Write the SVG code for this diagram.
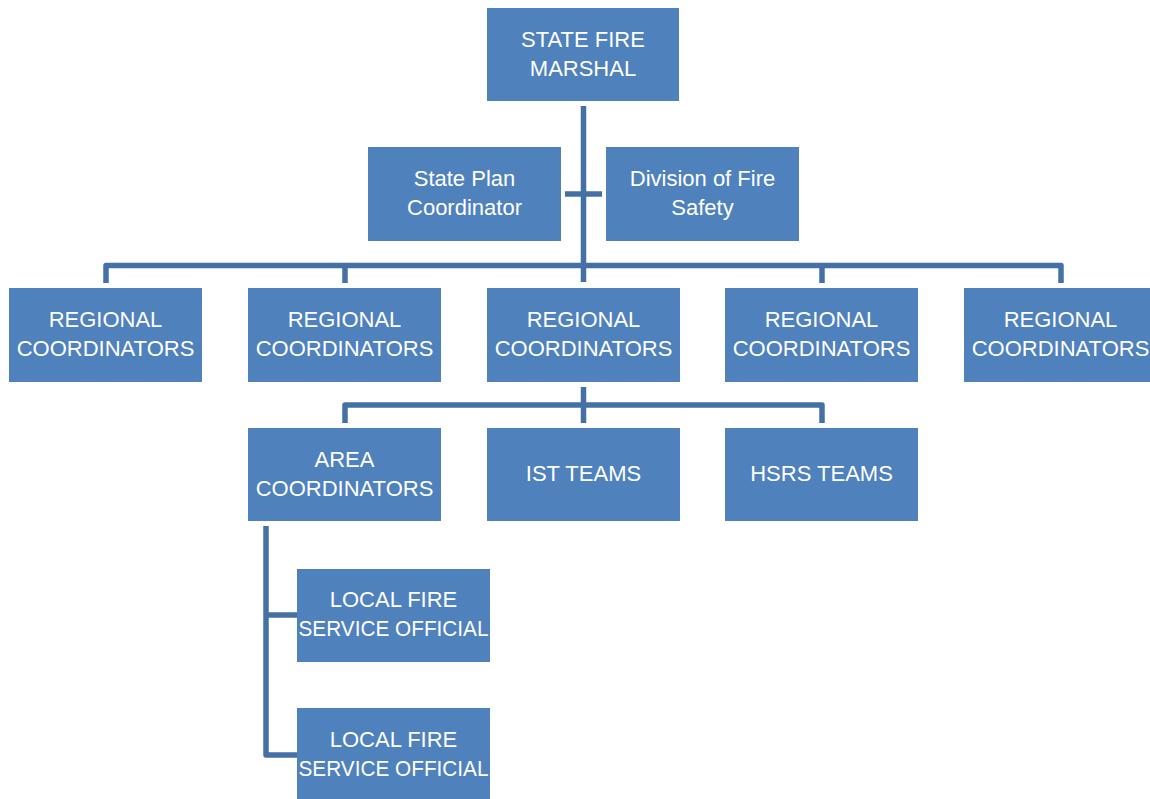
<svg xmlns="http://www.w3.org/2000/svg" width="1150" height="799" viewBox="0 0 1150 799">
<style>
.box{fill:#4F81BD;}
.t{font-family:"Liberation Sans",Arial,sans-serif;font-size:22px;fill:#FFFFFF;text-anchor:middle;}
.c{fill:none;stroke:#4470A5;stroke-width:5.5;stroke-linejoin:round;}
</style>
<rect width="1150" height="799" fill="#FFFFFF"/>
<g id="connectors">
<path class="c" d="M583.5,106 V282"/>
<path class="c" d="M565,194 H602"/>
<path class="c" d="M106,283 V265.5 H1061 V283"/>
<path class="c" d="M345,265.5 V283"/>
<path class="c" d="M822,265.5 V283"/>
<path class="c" d="M583.5,387 V423"/>
<path class="c" d="M345,423 V405 H822 V423"/>
<path class="c" d="M266,526 V755 H297"/>
<path class="c" d="M266,615 H297"/>
</g>
<g id="state-fire-marshal">
<rect class="box" x="487" y="8" width="192" height="93"/>
<text class="t" x="583" y="47">STATE FIRE</text>
<text class="t" x="583" y="76">MARSHAL</text>
</g>
<g id="state-plan-coordinator">
<rect class="box" x="368" y="147" width="193" height="94"/>
<text class="t" x="464.5" y="186">State Plan</text>
<text class="t" x="464.5" y="215">Coordinator</text>
</g>
<g id="division-fire-safety">
<rect class="box" x="606" y="147" width="193" height="94"/>
<text class="t" x="702.5" y="186">Division of Fire</text>
<text class="t" x="702.5" y="215">Safety</text>
</g>
<g id="regional-1">
<rect class="box" x="9" y="288" width="193" height="94"/>
<text class="t" x="105.5" y="327">REGIONAL</text>
<text class="t" x="105.5" y="356">COORDINATORS</text>
</g>
<g id="regional-2">
<rect class="box" x="248" y="288" width="193" height="94"/>
<text class="t" x="344.5" y="327">REGIONAL</text>
<text class="t" x="344.5" y="356">COORDINATORS</text>
</g>
<g id="regional-3">
<rect class="box" x="487" y="288" width="193" height="94"/>
<text class="t" x="583.5" y="327">REGIONAL</text>
<text class="t" x="583.5" y="356">COORDINATORS</text>
</g>
<g id="regional-4">
<rect class="box" x="725" y="288" width="193" height="94"/>
<text class="t" x="821.5" y="327">REGIONAL</text>
<text class="t" x="821.5" y="356">COORDINATORS</text>
</g>
<g id="regional-5">
<rect class="box" x="964" y="288" width="193" height="94"/>
<text class="t" x="1060.5" y="327">REGIONAL</text>
<text class="t" x="1060.5" y="356">COORDINATORS</text>
</g>
<g id="area-coordinators">
<rect class="box" x="248" y="428" width="193" height="93"/>
<text class="t" x="344.5" y="467">AREA</text>
<text class="t" x="344.5" y="496">COORDINATORS</text>
</g>
<g id="ist-teams">
<rect class="box" x="487" y="428" width="193" height="93"/>
<text class="t" x="583.5" y="481">IST TEAMS</text>
</g>
<g id="hsrs-teams">
<rect class="box" x="725" y="428" width="193" height="93"/>
<text class="t" x="821.5" y="481">HSRS TEAMS</text>
</g>
<g id="local-fire-1">
<rect class="box" x="297" y="569" width="193" height="93"/>
<text class="t" x="393.5" y="607">LOCAL FIRE</text>
<text class="t" x="393.5" y="636" textLength="190" lengthAdjust="spacingAndGlyphs">SERVICE OFFICIAL</text>
</g>
<g id="local-fire-2">
<rect class="box" x="297" y="708" width="193" height="93"/>
<text class="t" x="393.5" y="747">LOCAL FIRE</text>
<text class="t" x="393.5" y="776" textLength="190" lengthAdjust="spacingAndGlyphs">SERVICE OFFICIAL</text>
</g>
</svg>
